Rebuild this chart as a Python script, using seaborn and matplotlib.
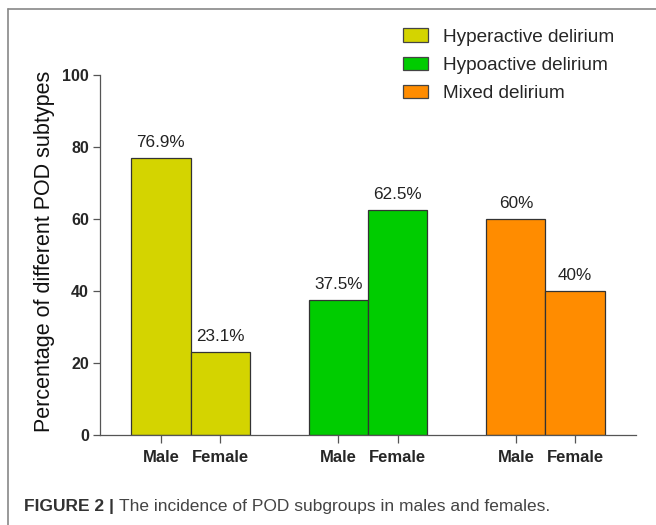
import numpy as np
import pandas as pd
import seaborn as sns
import matplotlib.pyplot as plt
from matplotlib.lines import Line2D
from matplotlib.patches import Patch

# Data
subtypes = ['Hyperactive delirium', 'Hypoactive delirium', 'Mixed delirium']
sexes = ['Male', 'Female']
male_pct = [76.9, 37.5, 60.0]
female_pct = [23.1, 62.5, 40.0]
bar_labels = ['76.9%', '23.1%', '37.5%', '62.5%', '60%', '40%']
colors = ['#D4D400', '#00CC00', '#FF8C00']

sns.set_style('ticks')
plt.rcParams['font.family'] = ['Liberation Sans', 'DejaVu Sans']

# long-format table, one row per bar; groups spaced 3 slots apart
rows = []
for g, name in enumerate(subtypes):
    for s, sex in enumerate(sexes):
        val = male_pct[g] if s == 0 else female_pct[g]
        rows.append({'pos': g * 3 + s, 'subtype': name, 'sex': sex, 'value': val})
df = pd.DataFrame(rows)

fig = plt.figure(figsize=(6.56, 5.25), dpi=100)
ax = fig.add_axes([100 / 656, 90 / 525, 536 / 656, 360 / 525])

sns.barplot(data=df, x='pos', y='value', hue='subtype', palette=colors,
            native_scale=True, dodge=False, width=1.0, edgecolor='#333333',
            linewidth=0.9, saturation=1, legend=False, ax=ax)

# percentage labels above bars
for i, row in df.iterrows():
    ax.annotate(bar_labels[i], (row['pos'], row['value']), xytext=(0, 6),
                textcoords='offset points', ha='center', va='bottom',
                fontsize=12.3, color='#222222')

ax.set_xlim(-1.03, 8.03)
ax.set_ylim(0, 100)
ax.set_yticks([0, 20, 40, 60, 80, 100])
ax.set_xticks(df['pos'])
ax.set_xticklabels(df['sex'], fontweight='bold', fontsize=12)
for lab in ax.get_yticklabels():
    lab.set_fontweight('bold')
    lab.set_fontsize(11.5)
ax.tick_params(axis='y', length=5, width=0.9, color='#555555', pad=3)
ax.tick_params(axis='x', length=6, width=0.9, color='#555555', pad=5)
ax.set_xlabel('')
ax.set_ylabel('Percentage of different POD subtypes', fontsize=15.5, color='#111111')
ax.yaxis.set_label_coords(-0.084, 0.51)
sns.despine(ax=ax)
for sp in ['left', 'bottom']:
    ax.spines[sp].set_color('#555555')
    ax.spines[sp].set_linewidth(0.9)

handles = [Patch(facecolor=c, edgecolor='#444444', linewidth=0.9) for c in colors]
fig.legend(handles, subtypes, loc='upper left', bbox_to_anchor=(403 / 656, 1 - 28.5 / 525),
           frameon=False, fontsize=13.7, borderpad=0, borderaxespad=0,
           handlelength=1.31, handleheight=0.69, handletextpad=0.8,
           labelspacing=0.57)

# caption and frame
cap = fig.text(24 / 656, 1 - 506 / 525, 'FIGURE 2 | ', fontsize=12.5, fontweight='bold',
               color='#333333', va='center', ha='left')
fig.canvas.draw()
bb = cap.get_window_extent()
fig.text(bb.x1 / fig.bbox.width, 1 - 506 / 525,
         'The incidence of POD subgroups in males and females.',
         fontsize=12.5, color='#444444', va='center', ha='left')
fig.add_artist(Line2D([8 / 656, 1], [1 - 9 / 525, 1 - 9 / 525], color='#888888', lw=1.2))
fig.add_artist(Line2D([8 / 656, 8 / 656], [0, 1 - 9 / 525], color='#888888', lw=1.2))

fig.savefig('out.png', dpi=100, facecolor='white')
